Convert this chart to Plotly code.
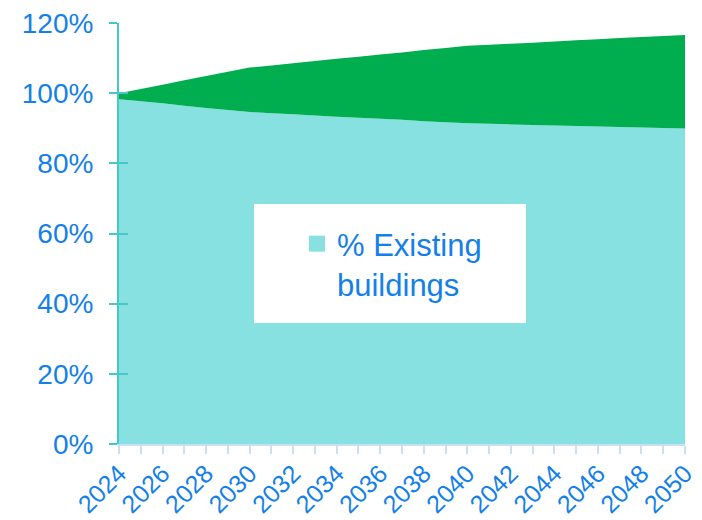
import plotly.graph_objects as go

years = list(range(2024, 2051))
existing = [98.3, 97.7, 97.1, 96.4, 95.8, 95.2, 94.6, 94.3, 94.0, 93.6, 93.3, 93.0, 92.7, 92.4,
            92.0, 91.7, 91.4, 91.25, 91.1, 90.95, 90.8, 90.65, 90.5, 90.35, 90.2, 90.05, 89.9]
new = [1.7, 3.5, 5.3, 7.3, 9.1, 10.9, 12.7, 13.6, 14.5, 15.6, 16.5, 17.4, 18.3, 19.2,
       20.3, 21.2, 22.1, 22.55, 23.0, 23.45, 23.9, 24.45, 24.9, 25.35, 25.8, 26.25, 26.7]
y_ticks = [0, 20, 40, 60, 80, 100, 120]
y_labels = ["0%", "20%", "40%", "60%", "80%", "100%", "120%"]

TEXT = "#1380EA"
TEAL = "#86E1E0"
GREEN = "#00AE4F"
AXIS_TEAL = "#45C8CA"
LIGHT = "#C9DEF7"
FONT = "Liberation Sans, Arial, sans-serif"

fig = go.Figure()
fig.add_trace(go.Scatter(x=years, y=existing, name="% Existing buildings", stackgroup="one",
                         mode="none", fillcolor=TEAL, showlegend=False))
fig.add_trace(go.Scatter(x=years, y=new, name="% New buildings", stackgroup="one",
                         mode="none", fillcolor=GREEN, showlegend=False))
# legend entry
fig.add_trace(go.Scatter(x=[None], y=[None], mode="markers", name="% Existing<br>buildings",
                         marker=dict(symbol="square", size=16, color=TEAL), showlegend=True))
# inside tick marks on the y axis
fig.add_trace(go.Scatter(x=[None], y=[None], yaxis="y2", showlegend=False, hoverinfo="skip"))

L, R, T, B = 119, 17, 23, 76
W, H = 702, 520
pw, ph = W - L - R, H - T - B

def px(xp):
    return (xp - L) / pw

def py(yp):
    return (H - B - yp) / ph

fig.add_shape(type="rect", xref="paper", yref="paper",
              x0=px(254), x1=px(526), y0=py(323), y1=py(204),
              fillcolor="white", line=dict(width=0), layer="above")

fig.update_layout(
    width=W, height=H,
    margin=dict(l=L, r=R, t=T, b=B, autoexpand=False),
    paper_bgcolor="white", plot_bgcolor="white",
    font=dict(family=FONT, color=TEXT),
    legend=dict(x=px(297), y=py(217), xanchor="left", yanchor="top",
                bgcolor="rgba(0,0,0,0)", font=dict(size=31, color=TEXT, family=FONT),
                valign="top", itemsizing="trace"),
    xaxis=dict(range=[2024, 2050], tickmode="linear", tick0=2024, dtick=2,
               tickangle=-45, tickfont=dict(size=25, color=TEXT), ticklabelstandoff=-5,
               showgrid=False, zeroline=False, showline=True, linecolor=LIGHT, linewidth=2,
               ticks="outside", ticklen=8, tickwidth=2, tickcolor=LIGHT,
               minor=dict(dtick=1, ticks="outside", ticklen=8, tickwidth=2, tickcolor=LIGHT),
               automargin=False),
    yaxis=dict(range=[0, 120], tickvals=y_ticks, ticktext=y_labels,
               tickfont=dict(size=28, color=TEXT), ticklabelstandoff=10,
               showgrid=True, gridcolor=LIGHT, gridwidth=2, zeroline=False,
               showline=True, linecolor=AXIS_TEAL, linewidth=2,
               ticks="outside", ticklen=8, tickwidth=2, tickcolor=AXIS_TEAL,
               automargin=False),
    yaxis2=dict(range=[0, 120], tickvals=y_ticks, overlaying="y", side="left",
                showticklabels=False, showgrid=False, zeroline=False, showline=False,
                ticks="inside", ticklen=9, tickwidth=2, tickcolor=AXIS_TEAL),
)

fig.write_html("out.html", config={"displayModeBar": False},
               post_script="document.body.style.margin='0px';document.body.style.overflow='hidden';")
